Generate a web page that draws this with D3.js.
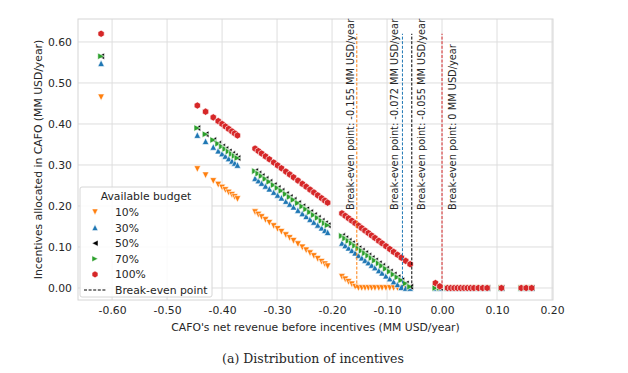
<!DOCTYPE html>
<html>
<head>
<meta charset="utf-8">
<script src="https://cdn.jsdelivr.net/npm/d3@7"></script>
<style>
  body { margin: 0; background: #fff; }
  text { font-family: "DejaVu Sans", sans-serif; fill: #262626; }
</style>
</head>
<body>
<svg id="chart" width="628" height="373"></svg>
<script>
'use strict'

// CAFO net revenue before incentives (MM USD/year), shared by every budget
var revenue = [
  -0.620,
  -0.445, -0.430, -0.416, -0.407, -0.400, -0.394, -0.388, -0.382, -0.377, -0.372,
  -0.340, -0.334, -0.328, -0.321, -0.314, -0.306, -0.299, -0.292, -0.284, -0.277,
  -0.270, -0.262, -0.254, -0.247, -0.240, -0.233, -0.226, -0.219, -0.213, -0.208,
  -0.182, -0.176, -0.170, -0.164, -0.158, -0.152, -0.146, -0.140, -0.134, -0.128,
  -0.122, -0.115, -0.109, -0.102, -0.095, -0.088, -0.081, -0.074, -0.066, -0.058,
  -0.012, -0.004, 0.010, 0.016, 0.022, 0.028, 0.034, 0.040, 0.046, 0.052,
  0.058, 0.066, 0.074, 0.082, 0.108, 0.144, 0.153, 0.163
]

// incentives allocated (MM USD/year) per budget
var inc10 = [
  0.465,
  0.290, 0.275, 0.261, 0.252, 0.245, 0.239, 0.233, 0.227, 0.222, 0.217,
  0.185, 0.179, 0.173, 0.166, 0.159, 0.151, 0.144, 0.137, 0.129, 0.122,
  0.115, 0.107, 0.099, 0.092, 0.085, 0.078, 0.071, 0.064, 0.058, 0.053,
  0.027, 0.021, 0.015, 0.009, 0.003, 0, 0, 0, 0, 0,
  0, 0, 0, 0, 0, 0, 0, 0, 0, 0,
  0, 0, 0, 0, 0, 0, 0, 0, 0, 0,
  0, 0, 0, 0, 0, 0, 0, 0
]
var inc30 = [
  0.548,
  0.373, 0.358, 0.344, 0.335, 0.328, 0.322, 0.316, 0.310, 0.305, 0.300,
  0.268, 0.262, 0.256, 0.249, 0.242, 0.234, 0.227, 0.220, 0.212, 0.205,
  0.198, 0.190, 0.182, 0.175, 0.168, 0.161, 0.154, 0.147, 0.141, 0.136,
  0.110, 0.104, 0.098, 0.092, 0.086, 0.080, 0.074, 0.068, 0.062, 0.056,
  0.050, 0.043, 0.037, 0.030, 0.023, 0.016, 0.009, 0.002, 0, 0,
  0, 0, 0, 0, 0, 0, 0, 0, 0, 0,
  0, 0, 0, 0, 0, 0, 0, 0
]
var inc50 = [
  0.565,
  0.390, 0.375, 0.361, 0.352, 0.345, 0.339, 0.333, 0.327, 0.322, 0.317,
  0.285, 0.279, 0.273, 0.266, 0.259, 0.251, 0.244, 0.237, 0.229, 0.222,
  0.215, 0.207, 0.199, 0.192, 0.185, 0.178, 0.171, 0.164, 0.158, 0.153,
  0.127, 0.121, 0.115, 0.109, 0.103, 0.097, 0.091, 0.085, 0.079, 0.073,
  0.067, 0.060, 0.054, 0.047, 0.040, 0.033, 0.026, 0.019, 0.011, 0.003,
  0, 0, 0, 0, 0, 0, 0, 0, 0, 0,
  0, 0, 0, 0, 0, 0, 0, 0
]
var inc70 = inc50.slice()
var inc100 = [
  0.620,
  0.445, 0.430, 0.416, 0.407, 0.400, 0.394, 0.388, 0.382, 0.377, 0.372,
  0.340, 0.334, 0.328, 0.321, 0.314, 0.306, 0.299, 0.292, 0.284, 0.277,
  0.270, 0.262, 0.254, 0.247, 0.240, 0.233, 0.226, 0.219, 0.213, 0.208,
  0.182, 0.176, 0.170, 0.164, 0.158, 0.152, 0.146, 0.140, 0.134, 0.128,
  0.122, 0.115, 0.109, 0.102, 0.095, 0.088, 0.081, 0.074, 0.066, 0.058,
  0.012, 0.004, 0, 0, 0, 0, 0, 0, 0, 0,
  0, 0, 0, 0, 0, 0, 0, 0
]

var budgets = ['10%', '30%', '50%', '70%', '100%']
var breakEven = [-0.155, -0.072, -0.055, 0]
var breakEvenTop = 0.62
var xTicks = [-0.6, -0.5, -0.4, -0.3, -0.2, -0.1, 0, 0.1, 0.2]
var yTicks = [0, 0.1, 0.2, 0.3, 0.4, 0.5, 0.6]

var series = [
  {name: budgets[0], values: inc10,  color: '#ff7f0e', shape: 'down'},
  {name: budgets[1], values: inc30,  color: '#1f77b4', shape: 'up'},
  {name: budgets[2], values: inc50,  color: '#000000', shape: 'left'},
  {name: budgets[3], values: inc70,  color: '#2ca02c', shape: 'right'},
  {name: budgets[4], values: inc100, color: '#d62728', shape: 'hex'}
]
var lineColors = ['#ff7f0e', '#1f77b4', '#000000', '#d62728']
var labelOffset = [-2.5, -4, 13.5, 13.5]

var svg = d3.select('#chart'),
    margin = {top: 19, right: 75, bottom: 73, left: 78},
    width = 628 - margin.left - margin.right,
    height = 373 - margin.top - margin.bottom

var x = d3.scaleLinear().domain([-0.662, 0.2018]).range([margin.left, margin.left + width])
var y = d3.scaleLinear().domain([-0.0293, 0.656]).range([margin.top + height, margin.top])

function fmt(v){
  var s = Math.abs(v).toFixed(2)
  return (v < -1e-9 ? '-' : '') + s
}

// marker paths, r = half width
function marker(shape, r){
  if (shape === 'hex'){
    var pts = d3.range(6).map(i => {
      var a = Math.PI / 3 * i + Math.PI / 6
      return [r * Math.cos(a), r * Math.sin(a)]
    })
    return 'M' + pts.join('L') + 'Z'
  }
  var up = [[0, -r], [r, r], [-r, r]]
  var rot = {up: 0, right: 90, down: 180, left: 270}[shape] * Math.PI / 180
  var pts = up.map(p => [p[0] * Math.cos(rot) - p[1] * Math.sin(rot),
                         p[0] * Math.sin(rot) + p[1] * Math.cos(rot)])
  return 'M' + pts.join('L') + 'Z'
}

// grid
var grid = svg.append('g')
grid.selectAll('.gx').data(xTicks).enter().append('line')
  .attr('x1', d => x(d)).attr('x2', d => x(d))
  .attr('y1', margin.top).attr('y2', margin.top + height)
  .attr('stroke', '#dedede').attr('stroke-width', 1)
grid.selectAll('.gy').data(yTicks).enter().append('line')
  .attr('x1', margin.left).attr('x2', margin.left + width)
  .attr('y1', d => y(d)).attr('y2', d => y(d))
  .attr('stroke', '#dedede').attr('stroke-width', 1)

// axes (tick labels only, seaborn style)
var xAxis = svg.append('g')
  .attr('transform', 'translate(0,' + (margin.top + height) + ')')
  .call(d3.axisBottom(x).tickValues(xTicks).tickFormat(fmt).tickSize(0).tickPadding(6))
var yAxis = svg.append('g')
  .attr('transform', 'translate(' + margin.left + ',0)')
  .call(d3.axisLeft(y).tickValues(yTicks).tickFormat(fmt).tickSize(0).tickPadding(6))
;[xAxis, yAxis].forEach(a => {
  a.select('.domain').remove()
  a.selectAll('text').style('font-size', '10.8px').attr('fill', '#262626')
    .style('font-family', '"DejaVu Sans", sans-serif')
})

svg.append('rect')
  .attr('x', margin.left).attr('y', margin.top)
  .attr('width', width).attr('height', height)
  .attr('fill', 'none').attr('stroke', '#d6d6d6').attr('stroke-width', 1)

// points
series.forEach(s => {
  svg.append('g').selectAll('path')
    .data(revenue.map((r, i) => [r, s.values[i]]))
    .enter().append('path')
    .attr('d', marker(s.shape, s.shape === 'hex' ? 3.6 : 3.3))
    .attr('transform', d => 'translate(' + x(d[0]) + ',' + y(d[1]) + ')')
    .attr('fill', s.color)
    .attr('stroke', '#fff').attr('stroke-width', 0.6)
})

// break-even lines and labels
breakEven.forEach((b, i) => {
  svg.append('line')
    .attr('x1', x(b)).attr('x2', x(b))
    .attr('y1', y(0)).attr('y2', y(breakEvenTop))
    .attr('stroke', lineColors[i]).attr('stroke-width', 1)
    .attr('stroke-dasharray', '3,1.6')
  svg.append('text')
    .attr('transform', 'translate(' + (x(b) + labelOffset[i]) + ',210) rotate(-90)')
    .style('font-size', '9.8px')
    .text('Break-even point: ' + (b === 0 ? '0' : b) + ' MM USD/year')
})

// axis titles
svg.append('text')
  .attr('x', margin.left + width / 2).attr('y', 331)
  .attr('text-anchor', 'middle').style('font-size', '10.8px')
  .text("CAFO's net revenue before incentives (MM USD/year)")
svg.append('text')
  .attr('transform', 'translate(42,' + (margin.top + height / 2) + ') rotate(-90)')
  .attr('text-anchor', 'middle').style('font-size', '10.8px')
  .text('Incentives allocated in CAFO (MM USD/year)')

// legend
var lg = svg.append('g').attr('transform', 'translate(80,187)')
lg.append('rect')
  .attr('width', 132).attr('height', 110).attr('rx', 2)
  .attr('fill', '#fff').attr('fill-opacity', 0.85)
  .attr('stroke', '#d6d6d6')
lg.append('text').attr('x', 66).attr('y', 13)
  .attr('text-anchor', 'middle').style('font-size', '10.8px')
  .text('Available budget')
series.forEach((s, i) => {
  var yy = 25 + i * 15.6
  lg.append('path')
    .attr('d', marker(s.shape, s.shape === 'hex' ? 3.4 : 3))
    .attr('transform', 'translate(15,' + yy + ')')
    .attr('fill', s.color).attr('stroke', '#fff').attr('stroke-width', 0.5)
  lg.append('text').attr('x', 35).attr('y', yy + 4)
    .style('font-size', '10.8px').text(s.name)
})
lg.append('line')
  .attr('x1', 4).attr('x2', 26).attr('y1', 103).attr('y2', 103)
  .attr('stroke', '#000').attr('stroke-dasharray', '3,1.6')
lg.append('text').attr('x', 35).attr('y', 107)
  .style('font-size', '10.8px').text('Break-even point')

// caption
svg.append('text')
  .attr('x', 313).attr('y', 363)
  .attr('text-anchor', 'middle')
  .style('font-family', '"DejaVu Serif", serif')
  .style('font-size', '12.5px')
  .attr('fill', '#222')
  .text('(a) Distribution of incentives')
</script>
</body>
</html>
